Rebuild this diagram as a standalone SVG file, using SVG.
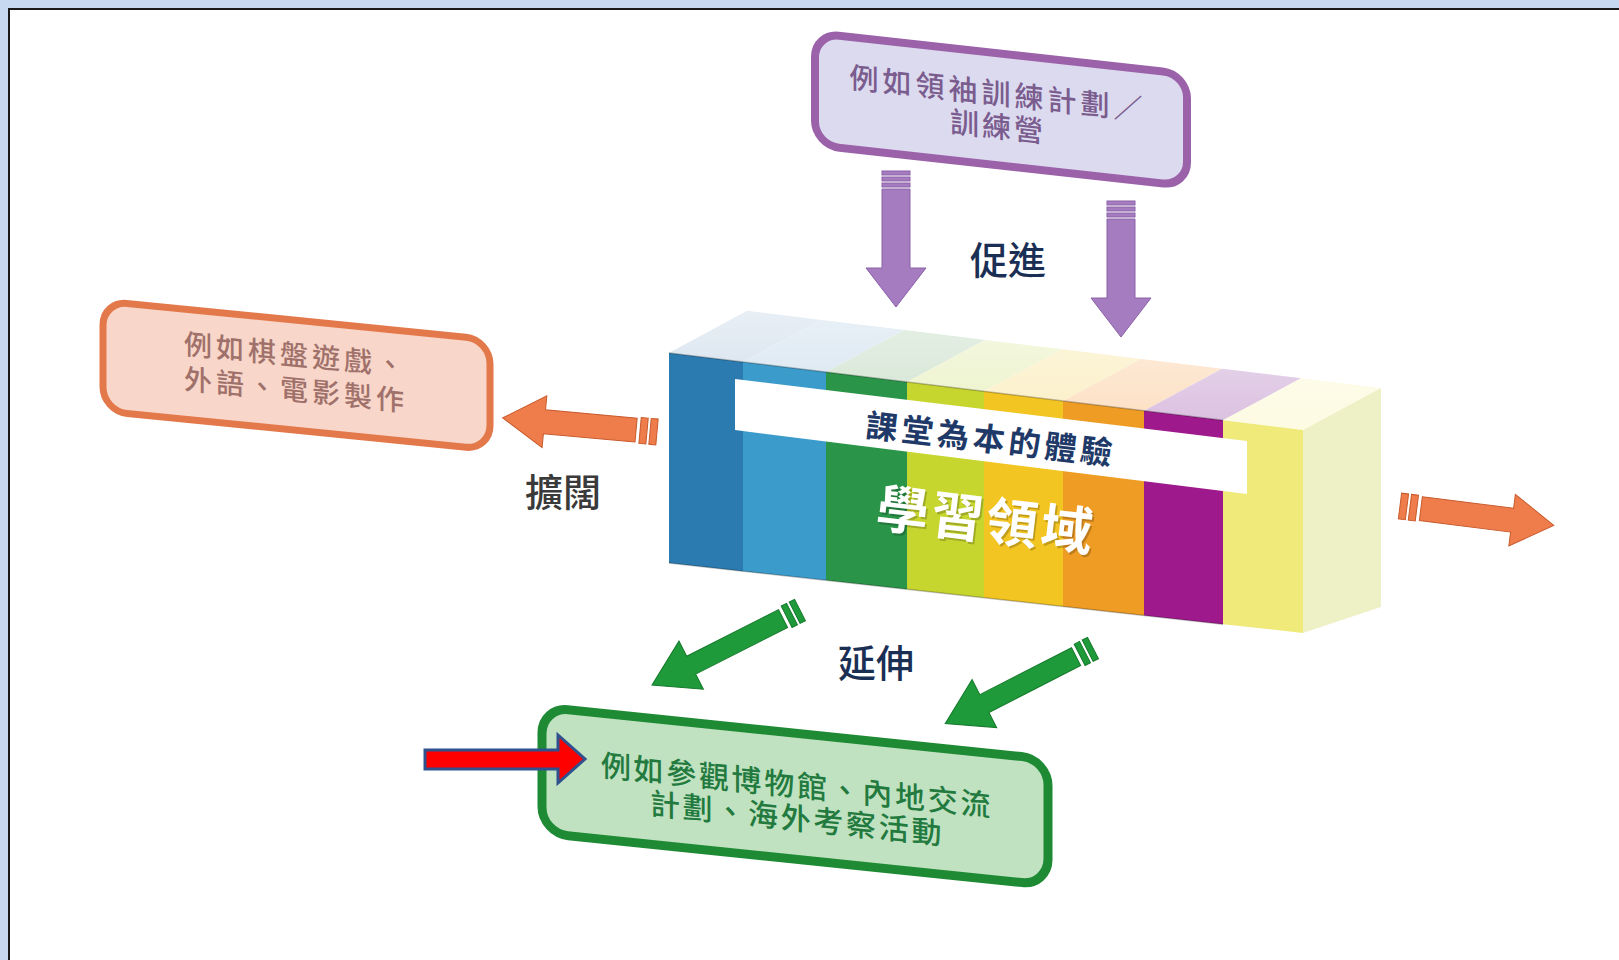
<svg xmlns="http://www.w3.org/2000/svg" width="1619" height="960" viewBox="0 0 1619 960">
<defs>
<style>
.cjk{font-family:"Noto Sans CJK TC","Noto Sans CJK SC",sans-serif;}
.lbl{font-size:38px;font-weight:500;text-anchor:middle;}
.boxtxt{text-anchor:middle;font-weight:500;}
.parrow{fill:#a47cbf;stroke:#8c62a8;stroke-width:1;}
.oarrow{fill:#ef7d4c;stroke:#c85a2c;stroke-width:1;}
.garrow{fill:#1f9a3a;stroke:#157a2b;stroke-width:1;}
</style>
<linearGradient id="gloss" x1="0" y1="1" x2="0" y2="0">
<stop offset="0" stop-color="#ffffff" stop-opacity="0"/>
<stop offset="1" stop-color="#ffffff" stop-opacity="0.5"/>
</linearGradient>
<g id="arrowP">
<rect x="-14" y="0" width="28" height="4"/>
<rect x="-14" y="6" width="28" height="4"/>
<rect x="-14" y="12" width="28" height="4"/>
<path d="M-14,18 V97 H-30 L0,136 L30,97 H14 V18 Z"/>
</g>
<g id="arrowO">
<rect x="0" y="-13" width="7" height="26"/>
<rect x="10" y="-13" width="7" height="26"/>
<path d="M21,-12 H113 V-26 L155,0 L113,26 V12 H21 Z"/>
</g>
<g id="arrowG">
<rect x="0" y="-12" width="6" height="24"/>
<rect x="9" y="-12" width="6" height="24"/>
<path d="M19,-10 H122 V-27 L166,0 L122,27 V10 H19 Z"/>
</g>
</defs>

<g id="frame">
<rect x="0" y="0" width="1619" height="960" fill="#c6d9f1"/>
<rect x="9" y="9" width="1620" height="960" fill="#ffffff" stroke="#1a1a1a" stroke-width="2"/>
</g>

<g id="connectors">
<use href="#arrowP" class="parrow" transform="translate(896,171)"/>
<use href="#arrowP" class="parrow" transform="translate(1121,201)"/>
<use href="#arrowO" class="oarrow" transform="translate(657,432) rotate(185.2)"/>
<use href="#arrowO" class="oarrow" transform="translate(1400,506) rotate(7.2)"/>
<use href="#arrowG" class="garrow" transform="translate(800,610) rotate(153.1)"/>
<use href="#arrowG" class="garrow" transform="translate(1093,648) rotate(152.9)"/>
</g>

<g id="labels" class="cjk">
<text class="lbl" x="1008" y="274" fill="#1b2f55">促進</text>
<text class="lbl" x="563" y="506" fill="#3a3a3a">擴闊</text>
<text class="lbl" x="876" y="677" fill="#1b2f55">延伸</text>
</g>

<g id="node-purple" transform="translate(815,33) skewY(6.3)">
<rect x="0" y="0" width="372" height="112" rx="24" fill="#dcdaef" stroke="#9b62aa" stroke-width="8"/>
<text class="cjk boxtxt" x="183" y="51" font-size="29" letter-spacing="4" fill="#7a5c8e">例如領袖訓練計劃／</text>
<text class="cjk boxtxt" x="183" y="84" font-size="29" letter-spacing="3" fill="#7a5c8e">訓練營</text>
</g>

<g id="node-orange" transform="translate(103,301) skewY(5.7)">
<rect x="0" y="0" width="387" height="110" rx="24" fill="#f8d7ca" stroke="#e3794a" stroke-width="7"/>
<text class="cjk boxtxt" x="193" y="45" font-size="28" letter-spacing="4" fill="#a0716a">例如棋盤遊戲、</text>
<text class="cjk boxtxt" x="193" y="80" font-size="28" letter-spacing="4" fill="#a0716a">外語、電影製作</text>
</g>

<g id="node-green" transform="translate(542,707) skewY(5.9)">
<rect x="0" y="0" width="506" height="126" rx="26" fill="#c0e2c1" stroke="#1e8a34" stroke-width="9"/>
<text class="cjk boxtxt" x="255" y="63" font-size="30" letter-spacing="2.7" fill="#237a3e">例如參觀博物館、內地交流</text>
<text class="cjk boxtxt" x="255" y="96" font-size="30" letter-spacing="2.7" fill="#237a3e">計劃、海外考察活動</text>
</g>

<g id="node-center">
<g id="top-face">
<polygon points="669,353 743,362 821,320 747,311" fill="#d1deeb"/>
<polygon points="743,362 826,372.1 904,330.1 821,320" fill="#d4e3ef"/>
<polygon points="826,372.1 907,381.9 985,339.9 904,330.1" fill="#d0e3d0"/>
<polygon points="907,381.9 984,391.3 1062,349.3 985,339.9" fill="#ecf2c9"/>
<polygon points="984,391.3 1063,400.9 1141,358.9 1062,349.3" fill="#fbefc4"/>
<polygon points="1063,400.9 1144,410.7 1222,368.7 1141,358.9" fill="#fddfc2"/>
<polygon points="1144,410.7 1223,420.3 1301,378.3 1222,368.7" fill="#dabfe0"/>
<polygon points="1223,420.3 1303,430 1381,388 1301,378.3" fill="#fdfbe2"/>
<polygon points="669,353 1303,430 1381,388 747,311" fill="url(#gloss)"/>
</g>
<polygon points="1303,430 1381,388 1381,607 1303,633" fill="#eef1c6"/>
<polygon points="669,353 743,362 743,571.2 669,563" fill="#2b7bb0"/>
<polygon points="743,362 826,372.1 826,580.3 743,571.2" fill="#3b9ccb"/>
<polygon points="826,372.1 907,381.9 907,589.3 826,580.3" fill="#2a9448"/>
<polygon points="907,381.9 984,391.3 984,597.8 907,589.3" fill="#c7d52f"/>
<polygon points="984,391.3 1063,400.9 1063,606.5 984,597.8" fill="#f3c522"/>
<polygon points="1063,400.9 1144,410.7 1144,615.4 1063,606.5" fill="#ee9c24"/>
<polygon points="1144,410.7 1223,420.3 1223,624.2 1144,615.4" fill="#9e1a8c"/>
<polygon points="1223,420.3 1303,430 1303,633 1223,624.2" fill="#efea7a"/>
<polyline points="669,353 1223,420.3" fill="none" stroke="#000" stroke-opacity="0.25" stroke-width="1.5"/>
<polyline points="669,563 1223,624.2" fill="none" stroke="#000" stroke-opacity="0.25" stroke-width="1.5"/>
<polygon points="735,379 1247,441 1247,494 735,430" fill="#ffffff"/>
<text class="cjk" x="991" y="451" font-size="32" font-weight="700" letter-spacing="4" text-anchor="middle" fill="#1f3a68" transform="rotate(6.6 991 440)">課堂為本的體驗</text>
<text class="cjk" x="988" y="541" font-size="52" font-weight="700" letter-spacing="3" text-anchor="middle" fill="#000" fill-opacity="0.2" transform="rotate(6.6 986 522)">學習領域</text>
<text class="cjk" x="986" y="539" font-size="52" font-weight="700" letter-spacing="3" text-anchor="middle" fill="#ffffff" transform="rotate(6.6 986 522)">學習領域</text>
</g>

<g id="red-arrow">
<polygon points="425,750 558,750 558,735 585,759 558,783 558,769 425,769" fill="#ff0000" stroke="#2f528f" stroke-width="3" stroke-linejoin="miter"/>
</g>
</svg>
